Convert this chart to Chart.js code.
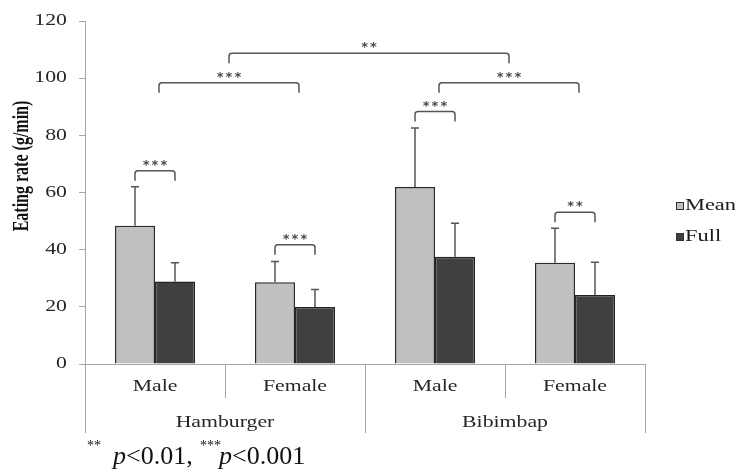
<!DOCTYPE html>
<html>
<head>
<meta charset="utf-8">
<script src="https://cdn.jsdelivr.net/npm/chart.js@4/dist/chart.umd.min.js"></script>
<style>
  html, body { margin: 0; padding: 0; background: #ffffff; }
  #wrap { width: 742px; height: 469px; position: relative; }
</style>
</head>
<body>
<div id="wrap"><canvas id="c" width="742" height="469"></canvas></div>
<script>
// ---- data ----
const categories = ['Male', 'Female', 'Male', 'Female'];
const groups = ['Hamburger', 'Bibimbap'];
const seriesNames = ['Mean', 'Full'];
const meanValues = [48.4, 28.6, 61.9, 35.4];
const fullValues = [28.9, 19.9, 37.5, 24.1];
const meanSD = [13.6, 7.3, 20.7, 12.1];
const fullSD = [6.5, 6.2, 11.7, 11.5];
const yTicks = [0, 20, 40, 60, 80, 100, 120];
const yTitle = 'Eating rate (g/min)';
// within-category significance (Mean vs Full)
const pairSig = ['***', '***', '***', '**'];
const pairSigLevel = [67.6, 41.7, 88.3, 53.1];
// between-category significance
const compareFrom = [0, 2, 0.5];
const compareTo = [1, 3, 2.5];
const compareSig = ['***', '***', '**'];
const compareLevel = [98.4, 98.4, 108.7];

// ---- styles ----
const SERIF = '"Liberation Serif", "Times New Roman", serif';
const AXIS_GREY = '#a6a6a6';
const TEXT = '#262626';
const LINE = '#555555';
const STRETCH = 1.36;

function sText(ctx, text, x, y, align, font, color, sx) {
  ctx.save();
  ctx.translate(x, y);
  ctx.scale(sx, 1);
  ctx.font = font;
  ctx.fillStyle = color;
  ctx.textAlign = align;
  ctx.textBaseline = 'middle';
  ctx.fillText(text, 0, 0);
  ctx.restore();
}

function catPx(xs, v) {
  const lo = Math.floor(v), hi = Math.ceil(v);
  const a = xs.getPixelForValue(lo), b = xs.getPixelForValue(hi);
  return lo === hi ? a : a + (b - a) * (v - lo);
}

function bracket(ctx, x1, x2, y, leg) {
  const r = 3;
  ctx.beginPath();
  ctx.moveTo(x1, y + leg);
  ctx.lineTo(x1, y + r);
  ctx.arcTo(x1, y, x1 + r, y, r);
  ctx.lineTo(x2 - r, y);
  ctx.arcTo(x2, y, x2, y + r, r);
  ctx.lineTo(x2, y + leg);
  ctx.stroke();
}

function stars(ctx, text, x, y) {
  ctx.save();
  ctx.font = 'bold 13px "DejaVu Sans", sans-serif';
  ctx.fillStyle = '#4a4a4a';
  ctx.textAlign = 'center';
  ctx.textBaseline = 'alphabetic';
  ctx.letterSpacing = '2px';
  ctx.fillText(text, x + 1, y);
  ctx.restore();
}

const decor = {
  id: 'decor',
  afterDatasetsDraw(chart) {
    const ctx = chart.ctx;
    const xs = chart.scales.x, ys = chart.scales.y;
    const area = chart.chartArea;

    // error bars (upper only)
    const sds = [meanSD, fullSD];
    const vals = [meanValues, fullValues];
    ctx.save();
    ctx.strokeStyle = LINE;
    ctx.lineWidth = 1.5;
    for (let d = 0; d < 2; d++) {
      const meta = chart.getDatasetMeta(d);
      meta.data.forEach((bar, i) => {
        const cx = bar.x;
        const yTop = ys.getPixelForValue(vals[d][i]);
        const yErr = ys.getPixelForValue(vals[d][i] + sds[d][i]);
        ctx.beginPath();
        ctx.moveTo(cx, yTop);
        ctx.lineTo(cx, yErr);
        ctx.moveTo(cx - 4, yErr);
        ctx.lineTo(cx + 4, yErr);
        ctx.stroke();
      });
    }

    // within-category brackets
    const m0 = chart.getDatasetMeta(0), m1 = chart.getDatasetMeta(1);
    categories.forEach((c, i) => {
      const x1 = m0.data[i].x, x2 = m1.data[i].x;
      const y = ys.getPixelForValue(pairSigLevel[i]);
      bracket(ctx, x1, x2, y, 10);
      stars(ctx, pairSig[i], (x1 + x2) / 2, y - 2);
    });
    // between-category brackets
    compareSig.forEach((s, k) => {
      const x1 = catPx(xs, compareFrom[k]) + 4;
      const x2 = catPx(xs, compareTo[k]) + 4;
      const y = ys.getPixelForValue(compareLevel[k]);
      bracket(ctx, x1, x2, y, 10);
      stars(ctx, s, (x1 + x2) / 2, y - 2);
    });
    ctx.restore();

    // y tick labels
    yTicks.forEach(t => {
      sText(ctx, String(t), area.left - 18, ys.getPixelForValue(t), 'right',
        '16px ' + SERIF, TEXT, STRETCH);
    });

    // y title (rotated)
    ctx.save();
    ctx.translate(22, 166);
    ctx.rotate(-Math.PI / 2);
    ctx.scale(1, 1.45);
    ctx.font = 'bold 16px ' + SERIF;
    ctx.fillStyle = '#111';
    ctx.textAlign = 'center';
    ctx.textBaseline = 'middle';
    ctx.fillText(yTitle, 0, 0);
    ctx.restore();

    // x axis: separators, labels
    const base = area.bottom;
    const step = xs.getPixelForValue(1) - xs.getPixelForValue(0);
    ctx.save();
    ctx.strokeStyle = AXIS_GREY;
    ctx.lineWidth = 1;
    for (let i = 0; i <= categories.length; i++) {
      const xb = Math.round(xs.getPixelForValue(0) - step / 2 + i * step) + 0.5;
      const long = (i % 2 === 0);
      ctx.beginPath();
      ctx.moveTo(xb, base);
      ctx.lineTo(xb, long ? 433 : 398);
      ctx.stroke();
    }
    ctx.restore();
    categories.forEach((c, i) => {
      sText(ctx, c, xs.getPixelForValue(i), 387, 'center', '16px ' + SERIF, TEXT, STRETCH);
    });
    groups.forEach((g, k) => {
      sText(ctx, g, catPx(xs, 2 * k + 0.5), 423, 'center', '16px ' + SERIF, TEXT, STRETCH);
    });

    // legend
    const colors = [chart.data.datasets[0].backgroundColor, chart.data.datasets[1].backgroundColor];
    const ly = [206, 237];
    seriesNames.forEach((n, k) => {
      ctx.save();
      ctx.fillStyle = colors[k];
      ctx.strokeStyle = '#333';
      ctx.lineWidth = 1;
      ctx.fillRect(676.5, ly[k] - 3.5, 7, 7);
      ctx.strokeRect(676.5, ly[k] - 3.5, 7, 7);
      ctx.restore();
      sText(ctx, n, 685, ly[k], 'left', '16px ' + SERIF, '#1a1a1a', 1.4);
    });

    // footnote
    ctx.save();
    ctx.fillStyle = '#111';
    ctx.textBaseline = 'alphabetic';
    ctx.textAlign = 'left';
    ctx.font = '14px ' + SERIF;
    ctx.fillText('**', 87, 450);
    ctx.font = 'italic 26px ' + SERIF;
    ctx.fillText('p', 113, 464);
    let w = ctx.measureText('p').width;
    ctx.font = '26px ' + SERIF;
    ctx.fillText('<0.01,', 113 + w, 464);
    ctx.font = '14px ' + SERIF;
    ctx.fillText('***', 200, 450);
    ctx.font = 'italic 26px ' + SERIF;
    ctx.fillText('p', 219, 464);
    w = ctx.measureText('p').width;
    ctx.font = '26px ' + SERIF;
    ctx.fillText('<0.001', 219 + w, 464);
    ctx.restore();
  }
};

new Chart(document.getElementById('c'), {
  type: 'bar',
  data: {
    labels: categories,
    datasets: [
      { label: seriesNames[0], data: meanValues, backgroundColor: '#c0c0c0',
        borderColor: '#2a2a2a', borderWidth: 1.5, borderSkipped: 'bottom' },
      { label: seriesNames[1], data: fullValues, backgroundColor: '#404040',
        borderColor: '#222222', borderWidth: 1.5, borderSkipped: 'bottom' }
    ]
  },
  options: {
    responsive: false,
    animation: false,
    devicePixelRatio: 1,
    layout: { padding: { top: 21, right: 97, left: 0, bottom: 0 } },
    datasets: { bar: { categoryPercentage: 80 / 140, barPercentage: 1.0 } },
    plugins: { legend: { display: false }, tooltip: { enabled: false }, title: { display: false } },
    scales: {
      x: {
        type: 'category',
        offset: true,
        grid: { display: false, drawTicks: false },
        border: { display: true, color: AXIS_GREY, width: 1 },
        ticks: { display: false },
        afterFit(s) { s.height = 105; }
      },
      y: {
        min: 0, max: 120,
        afterBuildTicks(s) { s.ticks = yTicks.map(v => ({ value: v })); },
        grid: { drawOnChartArea: false, drawTicks: true, tickLength: 6, color: AXIS_GREY },
        border: { display: true, color: AXIS_GREY, width: 1 },
        ticks: { color: 'rgba(0,0,0,0)', font: { size: 1 }, padding: 0 },
        afterFit(s) { s.width = 85; }
      }
    }
  },
  plugins: [decor]
});
</script>
</body>
</html>
